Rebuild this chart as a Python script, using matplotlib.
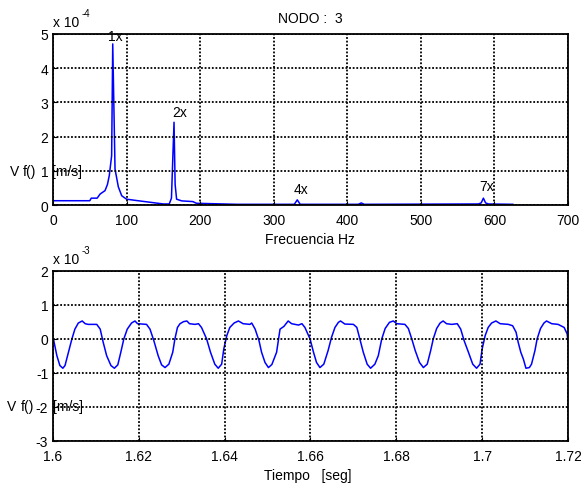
"""
Espectro de velocidad y señal temporal del nodo 3.
"""

import matplotlib

matplotlib.use("Agg")
import matplotlib.pyplot as plt

plt.rcParams["font.family"] = ["Liberation Sans", "DejaVu Sans"]
plt.rcParams["font.size"] = 10

# Espectro: frecuencia [Hz] y amplitud [x 1e-4 m/s]
freq_hz = [0, 50, 52, 60, 64, 70.7, 74, 76.5, 79.7, 81.2, 84.3, 88.8, 93.4, 100,
           113.7, 132, 150, 158, 161, 164.5, 166, 168, 175, 190, 195, 250, 328,
           332, 336, 415, 419, 423, 578, 582, 585, 588, 592, 625]
amp_e4 = [0.125, 0.125, 0.2, 0.2, 0.32, 0.42, 0.6, 0.86, 1.44, 4.71, 1.05, 0.53,
          0.27, 0.17, 0.13, 0.08, 0.03, 0.03, 0.2, 2.42, 0.6, 0.17, 0.12, 0.1,
          0.05, 0.02, 0.02, 0.15, 0.02, 0.02, 0.06, 0.02, 0.03, 0.06, 0.2, 0.06,
          0.03, 0.02]

# Armónicos marcados: texto, frecuencia, altura del rótulo [x 1e-4]
harm_labels = ["1x", "2x", "4x", "7x"]
harm_freq = [85, 172, 337, 590]
harm_y = [4.94, 2.72, 0.47, 0.56]

# Señal temporal: tiempo [s] y velocidad [x 1e-3 m/s]
t_seg = [1.6001, 1.6009, 1.6016, 1.6023, 1.6028, 1.6036, 1.6044, 1.6051, 1.6059,
         1.6068, 1.6075, 1.6082, 1.6102, 1.6110, 1.6117, 1.6125, 1.6135, 1.6143,
         1.6151, 1.6158, 1.6165, 1.6173, 1.6183, 1.6191, 1.6197, 1.6218, 1.6226,
         1.6235, 1.6245, 1.6253, 1.6261, 1.6270, 1.6279, 1.6284, 1.6290, 1.6296,
         1.6304, 1.6312, 1.6318, 1.6331, 1.6339, 1.6346, 1.6358, 1.6367, 1.6377,
         1.6385, 1.6393, 1.6398, 1.6405, 1.6412, 1.6422, 1.6432, 1.6443, 1.6459,
         1.6463, 1.6471, 1.6480, 1.6486, 1.6494, 1.6502, 1.6510, 1.6521, 1.6529,
         1.6538, 1.6548, 1.6556, 1.6572, 1.6580, 1.6587, 1.6599, 1.6607, 1.6614,
         1.6622, 1.6631, 1.6641, 1.6649, 1.6657, 1.6665, 1.6670, 1.6680, 1.6700,
         1.6708, 1.6715, 1.6723, 1.6732, 1.6740, 1.6750, 1.6758, 1.6766, 1.6774,
         1.6784, 1.6793, 1.6801, 1.6820, 1.6828, 1.6836, 1.6844, 1.6854, 1.6863,
         1.6872, 1.6880, 1.6886, 1.6894, 1.6902, 1.6909, 1.6917, 1.6929, 1.6942,
         1.6950, 1.6958, 1.6968, 1.6978, 1.6987, 1.6995, 1.7000, 1.7007, 1.7014,
         1.7022, 1.7032, 1.7042, 1.7061, 1.7071, 1.7079, 1.7084, 1.7090, 1.7096,
         1.7102, 1.7110, 1.7115, 1.7123, 1.7128, 1.7136, 1.7144, 1.7150, 1.7162,
         1.7177, 1.7191, 1.7198, 1.7200]
v_e3 = [0, -0.49, -0.78, -0.86, -0.78, -0.39, 0, 0.29, 0.47, 0.53, 0.45, 0.43,
        0.43, 0.29, -0.10, -0.49, -0.78, -0.86, -0.76, -0.39, 0, 0.29, 0.47, 0.53,
        0.45, 0.43, 0.29, -0.05, -0.49, -0.76, -0.84, -0.74, -0.39, 0, 0.34, 0.45,
        0.51, 0.53, 0.45, 0.43, 0.45, 0.34, 0, -0.39, -0.74, -0.86, -0.74, -0.29,
        0.10, 0.34, 0.47, 0.53, 0.45, 0.43, 0.47, 0.29, -0.05, -0.39, -0.69, -0.84,
        -0.75, -0.39, 0.29, 0.37, 0.53, 0.45, 0.41, 0.45, 0.34, 0, -0.39, -0.69,
        -0.84, -0.74, -0.34, 0.05, 0.34, 0.49, 0.53, 0.44, 0.43, 0.34, 0, -0.39,
        -0.74, -0.86, -0.74, -0.49, 0, 0.31, 0.49, 0.53, 0.45, 0.43, 0.31, 0,
        -0.34, -0.69, -0.84, -0.74, -0.34, 0, 0.31, 0.47, 0.53, 0.45, 0.43, 0.45,
        0.29, -0.05, -0.39, -0.74, -0.86, -0.74, -0.29, 0.10, 0.34, 0.47, 0.53,
        0.45, 0.43, 0.39, 0.20, -0.10, -0.39, -0.59, -0.86, -0.84, -0.74, -0.34,
        0, 0.31, 0.47, 0.53, 0.45, 0.43, 0.34, 0.15, -0.08]

W, H = 581, 485


def fig_xy(px, py):
    # pixel (desde arriba-izquierda) -> fracción de figura
    return px / W, 1 - py / H


def style_axes(ax):
    ax.grid(True, color="black", linestyle=(0, (1, 1)), linewidth=1.3)
    ax.set_axisbelow(False)
    for s in ax.spines.values():
        s.set_linewidth(1.3)
    ax.tick_params(direction="in", length=3, labelsize=10)
    ax.tick_params(axis="x", pad=6)
    ax.tick_params(axis="y", pad=3.5)


fig = plt.figure(figsize=(W / 100, H / 100), dpi=100)

# Espectro
ax1 = fig.add_axes([53 / W, 1 - 206 / H, 515 / W, 171 / H])
ax1.plot(freq_hz, [a * 1e-4 for a in amp_e4], color="blue", linewidth=1.1)
ax1.set_xlim(0, 700)
ax1.set_ylim(0, 5e-4)
ax1.set_xticks(range(0, 701, 100))
ax1.set_yticks([i * 1e-4 for i in range(6)])
ax1.set_yticklabels([str(i) for i in range(6)])
for lab, f, y in zip(harm_labels, harm_freq, harm_y):
    ax1.text(f, y * 1e-4, lab, ha="center", va="center", fontsize=10)
style_axes(ax1)

# Señal temporal
ax2 = fig.add_axes([53 / W, 1 - 442 / H, 515 / W, 170 / H])
ax2.plot(t_seg, [v * 1e-3 for v in v_e3], color="blue", linewidth=1.1)
ax2.set_xlim(1.6, 1.72)
ax2.set_ylim(-3e-3, 2e-3)
ax2.set_xticks([1.6, 1.62, 1.64, 1.66, 1.68, 1.7, 1.72])
ax2.set_xticklabels(["1.6", "1.62", "1.64", "1.66", "1.68", "1.7", "1.72"])
ax2.set_yticks([i * 1e-3 for i in range(-3, 3)])
ax2.set_yticklabels([str(i) for i in range(-3, 3)])
style_axes(ax2)

# Textos sueltos estilo MATLAB
fig.text(*fig_xy(310, 19), "NODO :  3", ha="center", va="center")
fig.text(*fig_xy(53, 23), "x 10", ha="left", va="center")
fig.text(*fig_xy(82, 14), "-4", ha="left", va="center", fontsize=7)
fig.text(*fig_xy(53, 260), "x 10", ha="left", va="center")
fig.text(*fig_xy(82, 251), "-3", ha="left", va="center", fontsize=7)
fig.text(*fig_xy(310, 240), "Frecuencia Hz", ha="center", va="center")
fig.text(*fig_xy(308, 476), "Tiempo   [seg]", ha="center", va="center")
fig.text(*fig_xy(10, 172), "V", ha="left", va="center")
fig.text(*fig_xy(23, 172), "f()", ha="left", va="center")
fig.text(*fig_xy(52, 172), "[m/s]", ha="left", va="center")
fig.text(*fig_xy(7, 407), "V", ha="left", va="center")
fig.text(*fig_xy(21, 407), "f()", ha="left", va="center")
fig.text(*fig_xy(53, 407), "[m/s]", ha="left", va="center")

fig.savefig("out.png", dpi=100)
plt.close(fig)
